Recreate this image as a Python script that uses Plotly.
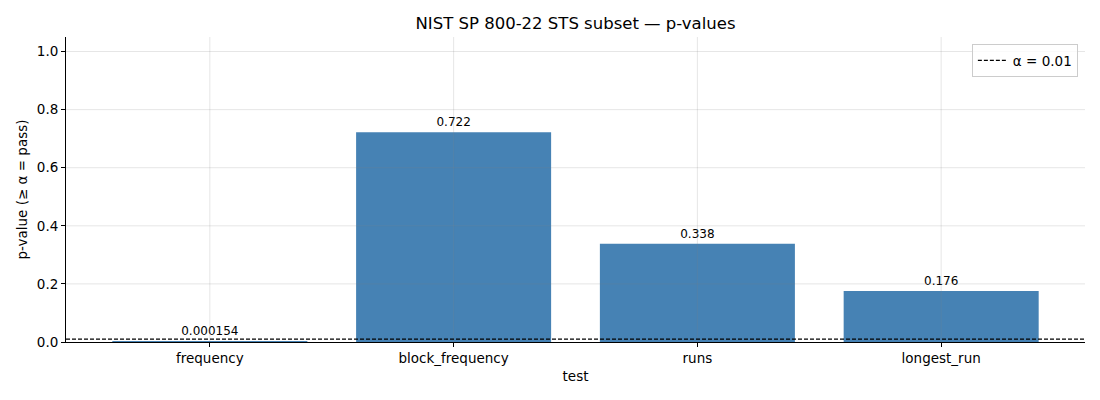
import plotly.graph_objs as go

# data
tests = ['frequency', 'block_frequency', 'runs', 'longest_run']
p_values = [0.000154, 0.722, 0.338, 0.176]
alpha = 0.01
y_ticks = [0.0, 0.2, 0.4, 0.6, 0.8, 1.0]
title = 'NIST SP 800-22 STS subset — p-values'

bar_color = '#4682B4'
grid_color = 'rgba(128,128,128,0.2)'
font_family = 'DejaVu Sans'

labels = [f'{v:.3g}' for v in p_values]

data = [
    go.Bar(x=tests, y=p_values, width=0.8, marker_color=bar_color,
           marker_line_width=0, text=labels, textposition='outside',
           textfont={'size': 12, 'color': 'black'}, cliponaxis=False,
           showlegend=False, hoverinfo='x+y'),
    # legend entry for the threshold line (line itself is a shape)
    go.Scatter(x=[None], y=[None], mode='lines', name=f'α = {alpha}',
               line={'color': 'black', 'width': 1.2, 'dash': '4px,2px'}),
]

# grid drawn over the bars, like the original
shapes = []
for t in y_ticks[1:]:
    shapes.append({'type': 'line', 'xref': 'paper', 'x0': 0, 'x1': 1,
                   'yref': 'y', 'y0': t, 'y1': t, 'layer': 'above',
                   'line': {'color': grid_color, 'width': 1}})
for c in tests:
    shapes.append({'type': 'line', 'xref': 'x', 'x0': c, 'x1': c,
                   'yref': 'paper', 'y0': 0, 'y1': 1, 'layer': 'above',
                   'line': {'color': grid_color, 'width': 1}})
shapes.append({'type': 'line', 'xref': 'paper', 'x0': 0, 'x1': 1,
               'yref': 'y', 'y0': alpha, 'y1': alpha, 'layer': 'above',
               'line': {'color': 'black', 'width': 1.2, 'dash': '4px,2px'}})

# page body adds an 8px offset, so margins are shifted to compensate
layout = go.Layout(
    width=1100, height=400,
    margin={'l': 58, 'r': 23, 't': 29, 'b': 66},
    plot_bgcolor='#FFF', paper_bgcolor='#FFF',
    font={'family': font_family, 'size': 13.5, 'color': 'black'},
    title={'text': title, 'xref': 'paper', 'x': 0.5, 'xanchor': 'center',
           'yref': 'container', 'y': 0.9625, 'yanchor': 'middle',
           'font': {'size': 16.5}},
    xaxis={'range': [-0.59, 3.59], 'showline': True, 'linecolor': 'black',
           'linewidth': 1, 'ticks': 'outside', 'ticklen': 4,
           'tickcolor': 'black', 'showgrid': False,
           'tickfont': {'size': 13.5},
           'title': {'text': 'test', 'font': {'size': 13.5}, 'standoff': 6}},
    yaxis={'range': [0, 1.05], 'tickvals': y_ticks, 'tickformat': '.1f',
           'showline': True, 'linecolor': 'black', 'linewidth': 1,
           'ticks': 'outside', 'ticklen': 4, 'tickcolor': 'black',
           'showgrid': False, 'zeroline': False,
           'tickfont': {'size': 13.5},
           'title': {'text': 'p-value (≥ α = pass)', 'font': {'size': 13.5},
                     'standoff': 6}},
    legend={'x': 0.993, 'y': 0.977, 'xanchor': 'right', 'yanchor': 'top',
            'bordercolor': '#CCCCCC', 'borderwidth': 1,
            'bgcolor': 'rgba(255,255,255,0.8)', 'font': {'size': 13.5},
            'tracegroupgap': 0},
    shapes=shapes,
)

fig = go.Figure(data=data, layout=layout)
fig.write_html('out.html')
